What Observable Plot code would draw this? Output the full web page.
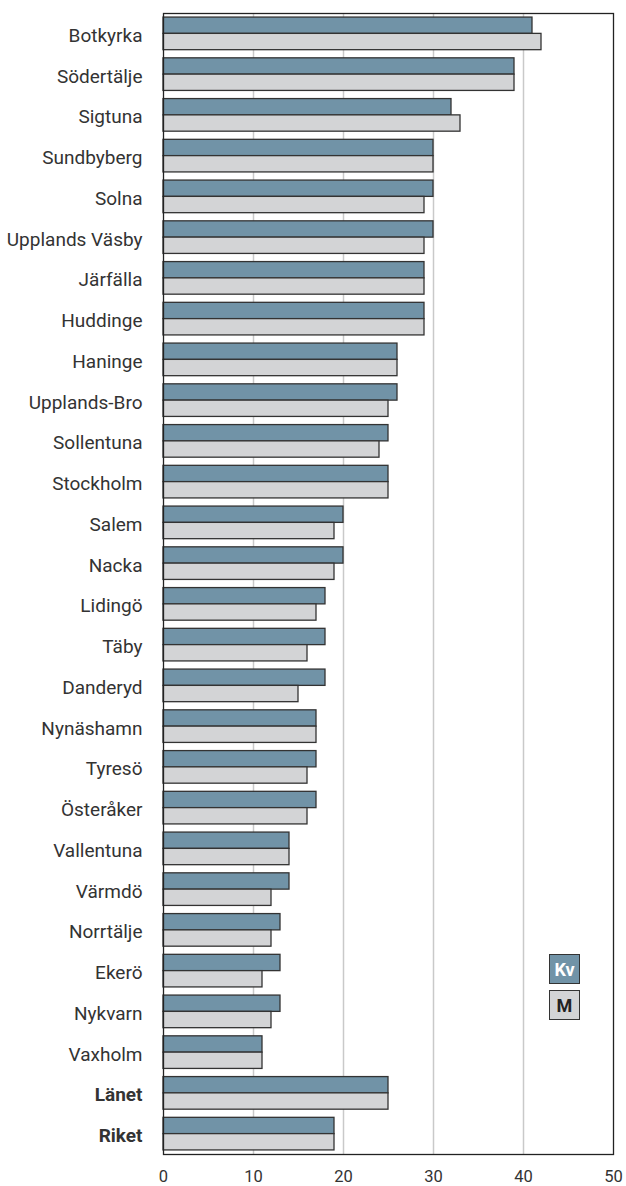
<!DOCTYPE html>
<html>
<head>
<meta charset="utf-8">
<script src="https://cdn.jsdelivr.net/npm/d3@7"></script>
<script src="https://cdn.jsdelivr.net/npm/@observablehq/plot@0.6"></script>
<style>
  html, body { margin: 0; padding: 0; background: #fff; }
  #wrap { position: relative; width: 626px; height: 1186px; font-family: Roboto, sans-serif; }
  .lg { position: absolute; width: 29px; height: 28px; border: 1.6px solid #333; box-sizing: content-box;
        font: bold 18px Roboto, sans-serif; display: flex; align-items: center; justify-content: center; }
</style>
</head>
<body>
<div id="wrap"></div>
<script>
const categories = ["Botkyrka","Södertälje","Sigtuna","Sundbyberg","Solna","Upplands Väsby","Järfälla","Huddinge","Haninge","Upplands-Bro","Sollentuna","Stockholm","Salem","Nacka","Lidingö","Täby","Danderyd","Nynäshamn","Tyresö","Österåker","Vallentuna","Värmdö","Norrtälje","Ekerö","Nykvarn","Vaxholm","Länet","Riket"];
const kv = [41,39,32,30,30,30,29,29,26,26,25,25,20,20,18,18,18,17,17,17,14,14,13,13,13,11,25,19];
const m  = [42,39,33,30,29,29,29,29,26,25,24,25,19,19,17,16,15,17,16,16,14,12,12,11,12,11,25,19];
const xTicks = [0,10,20,30,40,50];
const gridTicks = [10,20,30,40];
const boldLabels = ["Länet","Riket"];
const seriesNames = ["Kv","M"];
const colors = {Kv: "#7193a7", M: "#d3d4d6"};

const W = 626, H = 1186, mT = 13, mB = 32, mL = 163, mR = 13;
const padIn = 0.2, padOut = 0.1;
const step = (H - mT - mB) / (categories.length - padIn + 2 * padOut);
const half = step * (1 - padIn) / 2;

const kvData = categories.map((c, i) => ({cat: c, value: kv[i]}));
const mData = categories.map((c, i) => ({cat: c, value: m[i]}));

const chart = Plot.plot({
  width: W, height: H,
  marginTop: mT, marginBottom: mB, marginLeft: mL, marginRight: mR,
  style: {fontFamily: "Roboto, sans-serif", fontSize: "19px", color: "#333", background: "#fff"},
  x: {domain: [0, 50], ticks: xTicks, tickSize: 0, tickPadding: 16, label: null},
  y: {domain: categories, paddingInner: padIn, paddingOuter: padOut, round: false, tickSize: 0, tickPadding: 21, label: null},
  marks: [
    Plot.ruleX(gridTicks, {stroke: "#c9c9c9", strokeWidth: 1.5}),
    Plot.barX(kvData, {x: "value", y: "cat", fill: colors.Kv, stroke: "#333", strokeWidth: 1.3, insetBottom: half}),
    Plot.barX(mData, {x: "value", y: "cat", fill: colors.M, stroke: "#333", strokeWidth: 1.3, insetTop: half}),
    Plot.frame({stroke: "#222", strokeWidth: 1.3})
  ]
});

// style axes
chart.querySelectorAll("[aria-label^='x-axis']").forEach(g => g.setAttribute("font-size", "16.5px"));
chart.querySelectorAll("[aria-label^='y-axis'] text").forEach(t => t.setAttribute("dy", "0.1em"));
chart.querySelectorAll("text").forEach(t => {
  if (boldLabels.includes(t.textContent)) t.setAttribute("font-weight", "bold");
});

const wrap = document.getElementById("wrap");
wrap.appendChild(chart);

// legend
const legendPos = [{top: 954, bg: colors.Kv, fg: "#fff"}, {top: 990, bg: colors.M, fg: "#222"}];
seriesNames.forEach((s, i) => {
  const d = document.createElement("div");
  d.className = "lg";
  d.style.left = "549px";
  d.style.top = legendPos[i].top + "px";
  d.style.background = legendPos[i].bg;
  d.style.color = legendPos[i].fg;
  d.textContent = s;
  wrap.appendChild(d);
});
</script>
</body>
</html>
